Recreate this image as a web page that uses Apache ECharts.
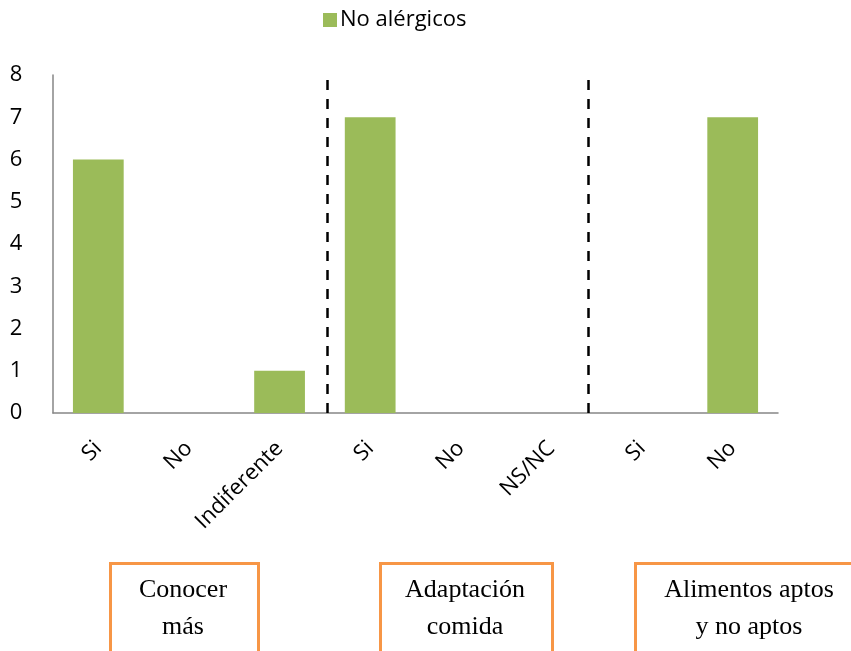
<!DOCTYPE html>
<html>
<head>
<meta charset="utf-8">
<script src="https://cdn.jsdelivr.net/npm/echarts@6/dist/echarts.min.js"></script>
<style>
html,body{margin:0;padding:0;background:#fff;}
#main{width:851px;height:651px;}
</style>
</head>
<body>
<div id="main"></div>
<script>
var categories = ['Si', 'No', 'Indiferente', 'Si', 'No', 'NS/NC', 'Si', 'No'];
var noAlergicos = [6, 0, 1, 7, 0, 0, 0, 7];
var yTicks = [0, 1, 2, 3, 4, 5, 6, 7, 8];
// separadores entre bloques (en unidades de categoria)
var separadores = [2.53, 5.41];
var grupos = ['Conocer\nmás', 'Adaptación\ncomida', 'Alimentos aptos\ny no aptos'];

var myChart = echarts.init(document.getElementById('main'));

var cajas = [
	{ left: 109, width: 148 },
	{ left: 379, width: 172 },
	{ left: 634, width: 230 }
];

var graphic = [];
for (var i = 0; i < grupos.length; i++) {
	graphic.push({
		type: 'rect',
		left: cajas[i].left,
		top: 562,
		shape: { width: cajas[i].width, height: 100 },
		style: { fill: '#fff', stroke: '#F79646', lineWidth: 3 },
		z: 10
	});
	graphic.push({
		type: 'text',
		x: cajas[i].left + cajas[i].width / 2,
		y: 609,
		style: {
			text: grupos[i],
			fill: '#000',
			fontSize: 26,
			fontFamily: '"Liberation Serif", "Times New Roman", serif',
			align: 'center',
			verticalAlign: 'middle',
			lineHeight: 37
		},
		z: 11
	});
}

var option = {
	animation: false,
	textStyle: { fontFamily: '"Open Sans", "Noto Sans", sans-serif' },
	legend: {
		data: ['No alérgicos'],
		left: 318,
		top: 4,
		itemWidth: 14,
		itemHeight: 14,
		icon: 'rect',
		textStyle: { fontSize: 22, color: '#000', padding: [0, 0, 0, -2] }
	},
	grid: { left: 53, right: 73, top: 75, bottom: 238, containLabel: false },
	xAxis: [
		{
			type: 'category',
			data: categories,
			axisLine: { lineStyle: { color: '#868686', width: 1.5 } },
			axisTick: { show: false },
			axisLabel: { rotate: 45, fontSize: 22, color: '#000', margin: 32, interval: 0 }
		},
		{
			type: 'value',
			min: -0.5,
			max: 7.5,
			show: false
		}
	],
	yAxis: {
		type: 'value',
		min: yTicks[0],
		max: yTicks[yTicks.length - 1],
		interval: 1,
		splitLine: { show: false },
		axisLine: { show: true, onZero: false, lineStyle: { color: '#868686', width: 1.5 } },
		axisTick: { show: false },
		axisLabel: { fontSize: 22, color: '#000', margin: 37, align: 'center' }
	},
	series: [
		{
			name: 'No alérgicos',
			type: 'bar',
			barWidth: '56%',
			data: noAlergicos,
			itemStyle: { color: '#9BBB59' }
		},
		{
			type: 'line',
			xAxisIndex: 1,
			data: [],
			markLine: {
				silent: true,
				symbol: 'none',
				label: { show: false },
				lineStyle: { color: '#000', type: [10, 9], width: 2.5 },
				data: separadores.map(function (s) { return { xAxis: s }; })
			}
		}
	],
	graphic: graphic
};

myChart.setOption(option);
</script>
</body>
</html>
